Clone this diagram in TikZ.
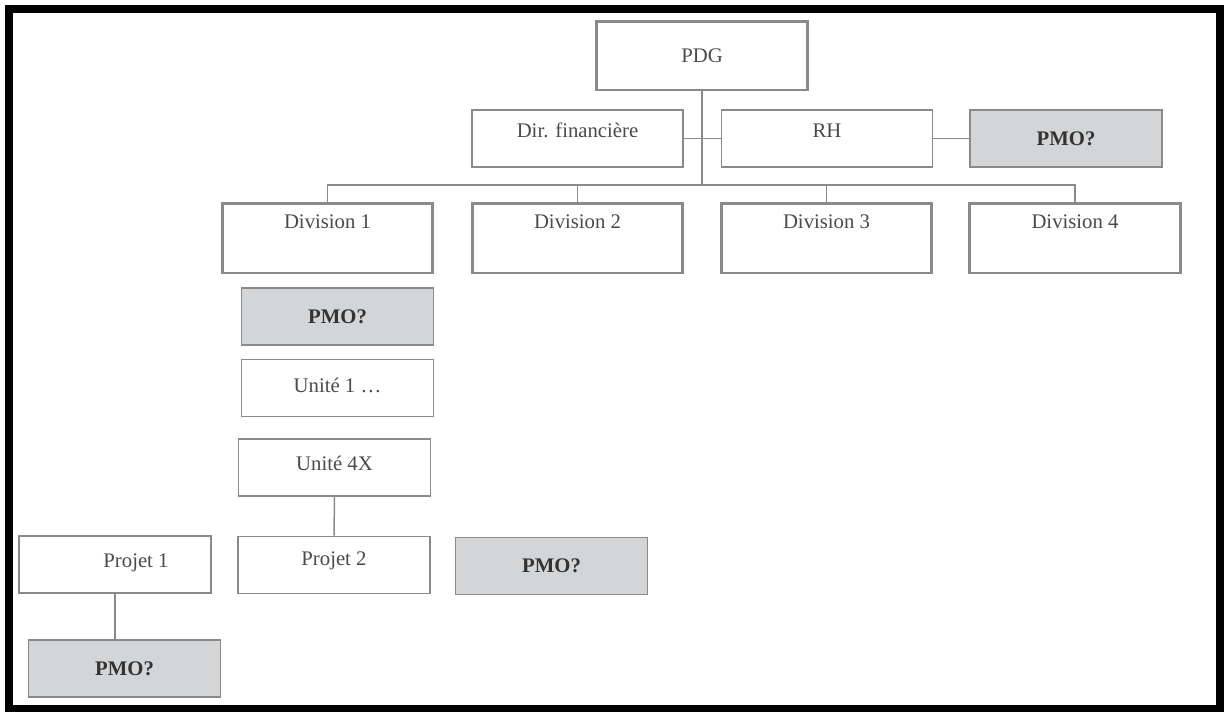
\documentclass[tikz,border=0pt]{standalone}
\usepackage{fontspec}
\setmainfont{Liberation Serif}
\definecolor{boxgray}{HTML}{D4D5D7}
\definecolor{linegray}{HTML}{8A8A8A}
\definecolor{textgray}{HTML}{4A4A4A}

\begin{document}
\begin{tikzpicture}[x=0.02cm, y=-0.02cm,
  box/.style={draw=linegray, line width=1.1pt, fill=white, text=textgray,
    text height=7.8pt, text depth=0pt, inner sep=1pt,
    minimum width=3.84cm, minimum height=1.14cm,
    font=\fontsize{11.8}{14}\selectfont},
  wide/.style={minimum width=4.22cm},
  bigbox/.style={box, wide, line width=1.7pt},
  pmo/.style={box, fill=boxgray, text=black!80,
    font=\fontsize{11.8}{14}\selectfont\bfseries},
  link/.style={draw=linegray, line width=0.85pt}]
\useasboundingbox (0,0) rectangle (1224,711);

% Frame
\draw[line width=0.16cm] (9,9) rectangle (1220,709);

% Top level
\node[bigbox, minimum width=4.24cm, minimum height=1.38cm] (pdg) at (702,55.5) {PDG};
\node[box, wide, text depth=9pt] (dir) at (577.5,138.5) {Dir. financière};
\node[box, wide, text depth=9pt] (rh) at (827,138.5) {RH};
\node[pmo] (pmoa) at (1066,138.5) {PMO?};

% Divisions
\foreach \i/\x in {1/327.5, 2/577.5, 3/826.5, 4/1075}
  \node[bigbox, minimum height=1.4cm, text depth=19pt] (div\i) at (\x,238) {Division \i};

% Division 1 branch
\node[pmo] (pmob) at (337.5,316.5) {PMO?};
\node[box, text depth=3pt] (unit1) at (337.5,388) {Unité 1 \dots};
\node[box, text depth=4.5pt] (unit4x) at (334.5,467.5) {Unité 4X};

% Projects
\node[box, text depth=4.5pt] (proj1) at (115,564.5) {\hspace*{0.84cm}Projet 1};
\node[box, text depth=7pt] (proj2) at (334,565) {Projet 2};
\node[pmo] (pmoc) at (551.5,566) {PMO?};
\node[pmo] (pmod) at (124.5,668.5) {PMO?};

% Connectors
\coordinate (bus) at (702,185);
\draw[link] (pdg.south) -- (bus);
\draw[link] (dir.east) -- (rh.west);
\draw[link] (rh.east) -- (pmoa.west);
\draw[link] (div1.north) |- (bus) -| (div4.north);
\draw[link] (div2.north) -- (div2.north |- bus);
\draw[link] (div3.north) -- (div3.north |- bus);
\draw[link] (unit4x.south) -- (proj2.north);
\draw[link] (proj1.south) -- (proj1.south |- pmod.north);
\end{tikzpicture}
\end{document}
